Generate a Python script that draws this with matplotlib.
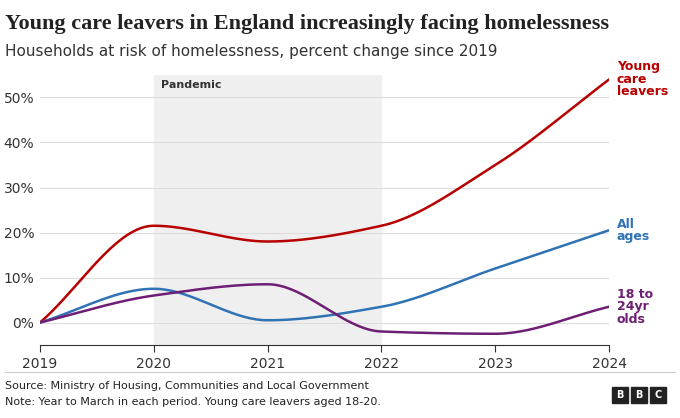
import numpy as np
import matplotlib
matplotlib.use('Agg')
import matplotlib.pyplot as plt

years = [2019, 2020, 2021, 2022, 2023, 2024]
care_leavers = [0, 21.5, 18, 21.5, 35, 54]
all_ages = [0, 7.5, 0.5, 3.5, 12, 20.5]
young_18_24 = [0, 6, 8.5, -2, -2.5, 3.5]
yticks = [0, 10, 20, 30, 40, 50]


def smooth(x, y, n=40):
    # monotone cubic (like d3 curveMonotoneX), drawing only
    x = np.asarray(x, float)
    y = np.asarray(y, float)
    d = np.diff(y) / np.diff(x)
    m = np.zeros_like(y)
    m[0], m[-1] = d[0], d[-1]
    for i in range(1, len(y) - 1):
        if d[i - 1] * d[i] > 0:
            m[i] = 2 / (1 / d[i - 1] + 1 / d[i])
    xs, ys = [], []
    for i in range(len(x) - 1):
        h = x[i + 1] - x[i]
        t = np.linspace(0, 1, n)
        h00 = 2 * t**3 - 3 * t**2 + 1
        h10 = t**3 - 2 * t**2 + t
        h01 = -2 * t**3 + 3 * t**2
        h11 = t**3 - t**2
        xs.append(x[i] + t * h)
        ys.append(h00 * y[i] + h10 * h * m[i] + h01 * y[i + 1] + h11 * h * m[i + 1])
    return np.concatenate(xs), np.concatenate(ys)


fig = plt.figure(figsize=(6.8, 4.18), dpi=100)
ax = fig.add_axes([0.0588, 0.1746, 0.8368, 0.646])

ax.axvspan(2020, 2022, color='#efefef', zorder=0)
ax.text(2020.06, 52, 'Pandemic', fontsize=8, fontweight='bold', color='#333333')

series = [(care_leavers, '#b80000', 'Young\ncare\nleavers'),
          (all_ages, '#2f73b5', 'All\nages'),
          (young_18_24, '#6e1e74', '18 to\n24yr\nolds')]
for vals, col, lab in series:
    sx, sy = smooth(years, vals)
    ax.plot(sx, sy, color=col, lw=1.8, zorder=3, solid_capstyle='round')
    ax.text(2024.07, vals[-1], lab, color=col, fontsize=9, fontweight='bold',
            va='center', ha='left', linespacing=0.95)

ax.set_xlim(2019, 2024)
ax.set_ylim(-5, 55)
ax.set_yticks(yticks)
ax.set_yticklabels([f'{v}%' for v in yticks])
ax.set_xticks(years)
ax.grid(axis='y', color='#dddddd', lw=0.8)
ax.set_axisbelow(True)
for s in ['top', 'right', 'left']:
    ax.spines[s].set_visible(False)
ax.spines['bottom'].set_color('#333333')
ax.tick_params(axis='y', length=0, labelsize=10, colors='#333333', pad=4)
ax.tick_params(axis='x', length=5, labelsize=10, colors='#333333')

fig.text(0.008, 0.93, 'Young care leavers in England increasingly facing homelessness',
         fontsize=16, fontweight='bold', family='Liberation Serif', color='#222222')
fig.text(0.008, 0.865, 'Households at risk of homelessness, percent change since 2019',
         fontsize=11, color='#333333')
fig.add_artist(plt.Line2D([0.008, 0.992], [0.11, 0.11], color='#cccccc', lw=0.8))
fig.text(0.008, 0.07, 'Source: Ministry of Housing, Communities and Local Government',
         fontsize=8, color='#222222')
fig.text(0.008, 0.03, 'Note: Year to March in each period. Young care leavers aged 18-20.',
         fontsize=8, color='#222222')
for i, ch in enumerate('BBC'):
    x0 = 0.9 + i * 0.028
    fig.patches.append(plt.Rectangle((x0, 0.035), 0.024, 0.04, transform=fig.transFigure,
                                     color='#222222'))
    fig.text(x0 + 0.012, 0.055, ch, color='white', fontsize=7, fontweight='bold',
             ha='center', va='center')

fig.savefig('out.png', dpi=100)
